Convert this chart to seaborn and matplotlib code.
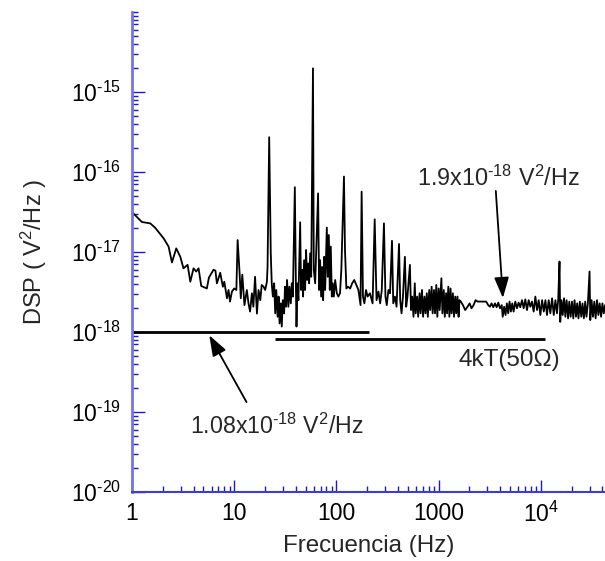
import numpy as np
import pandas as pd
import matplotlib
matplotlib.use("Agg")
import matplotlib.pyplot as plt
import seaborn as sns

UNIT = 1e-18  # DSP values below are in units of 1e-18 V^2/Hz

# ---- spectrum (segments) ----
freq_low = [1.0, 1.25, 1.51, 1.69, 2.04, 2.28, 2.46, 2.71, 2.97, 3.19, 3.5, 3.72, 4.0, 4.25, 4.48,
            4.76, 5.4, 5.66, 6.28, 6.55, 6.77, 7.3, 7.75, 8.0, 8.5, 8.8, 9.1, 9.5, 10.0, 10.5,
            10.8, 11.3, 11.6, 12.0, 12.6, 13.3, 13.8, 14.3, 14.9, 15.4, 16.0, 16.7, 17.3, 18.0, 18.6,
            19.4, 20.1, 20.9]
dsp_low = [31.6, 23.7, 22.8, 20.0, 14.8, 11.7, 7.4, 11.1, 8.7, 6.25, 6.9, 4.25, 6.25, 5.7, 6.25,
           3.76, 3.5, 4.8, 6.0, 5.85, 4.06, 5.5, 3.68, 4.25, 2.64, 3.35, 2.4, 3.2, 3.5, 3.35,
           14.1, 5.4, 2.64, 5.2, 2.17, 3.35, 2.28, 1.8, 3.05, 2.07, 4.9, 1.7, 3.35, 2.5, 3.87,
           3.68, 3.35, 4.25]

freq_mid = [21.2, 22.0, 22.8, 23.3, 23.9, 24.6, 25.2, 25.8, 26.6, 27.2, 27.8, 28.6, 29.2, 29.9, 30.8,
            31.4, 32.2, 32.9, 33.9, 34.7, 35.8, 36.6, 37.5, 39.2, 40.2, 40.7, 41.6, 42.5, 44.2, 45.1,
            46.1, 47.2, 48.3, 49.4, 50.5, 51.7, 52.9, 54.1, 55.4, 56.7, 59.0, 60.1, 62.0, 66.2, 67.8,
            69.3, 70.9, 72.5, 74.2, 75.9, 77.6, 80.6, 82.3, 84.3, 86.2, 88.1, 90.2, 92.2, 94.4, 97.3,
            101, 104.5, 108.5, 111.8, 118.6, 121.4, 125.2, 130.2, 136.5, 142.6, 149.5, 156.7, 164.3,
            172.3, 176.6, 182, 188, 195, 202]
dsp_mid = [6.5, 272, 9.6, 4.06, 2.77, 4.06, 1.71, 3.35, 1.55, 2.77, 1.28, 2.28, 1.17, 2.5, 1.71,
           3.68, 2.07, 4.47, 2.07, 3.68, 2.28, 4.06, 2.77, 64.5, 3.35, 1.17, 4.06, 2.5, 23.5, 3.35,
           6.0, 2.77, 7.9, 3.35, 10.6, 4.47, 7.2, 4.06, 9.6, 4.9, 1976, 6.0, 4.06, 54, 3.35,
           7.9, 2.77, 6.5, 2.5, 8.7, 3.35, 20.2, 4.9, 16.3, 3.35, 11.7, 2.77, 4.06, 2.77, 4.47,
           3.05, 2.77, 3.05, 6.0, 87.6, 10.6, 3.5, 3.68, 3.5, 4.06, 4.47, 3.87, 3.35,
           2.17, 56.7, 2.77, 2.28, 3.35, 2.77]

freq_high = [213, 226, 237, 247, 258, 268, 278, 292, 302, 311, 323, 335, 350, 360, 374,
             388, 410, 421, 434, 448, 468, 482, 496, 524, 537, 552, 568, 585, 597, 617,
             631, 652, 667, 688, 705, 727, 745, 767, 785, 810, 829, 855, 875, 902, 923,
             950, 972, 1002, 1025, 1065, 1090, 1125, 1150, 1185, 1210, 1245, 1275, 1310, 1340, 1380,
             1415, 1455, 1490, 1530, 1570, 1600, 1650, 1730, 1820, 1920, 2010, 2100, 2200, 2300, 2410]
dsp_high = [3.05, 2.28, 25.6, 2.5, 3.2, 2.28, 3.35, 22.8, 2.77, 2.17, 3.35, 3.05, 13.8, 2.28, 2.77,
            2.07, 12.6, 2.5, 1.71, 2.77, 8.7, 2.07, 2.77, 6.9, 1.88, 2.77, 1.55, 4.06, 1.71, 2.77,
            1.55, 3.05, 1.71, 3.35, 1.55, 2.77, 1.71, 3.05, 1.55, 3.35, 1.88, 3.68, 1.71, 3.35, 1.71,
            3.87, 1.55, 3.5, 1.88, 4.7, 1.71, 3.35, 1.55, 3.05, 1.71, 3.68, 1.55, 3.5, 1.71, 3.05,
            1.55, 2.77, 1.71, 2.77, 1.55, 2.5, 2.4, 2.17, 1.88, 2.07, 2.28, 1.98, 2.17, 2.5, 2.4]

freq_top = [2540, 2740, 2920, 3060, 3180, 3300, 3430, 3560, 3700, 3840, 3990, 4150, 4240, 4380, 4520,
            4660, 4800, 4950, 5100, 5260, 5420, 5630, 5850, 6070, 6300, 6550, 6800, 7060, 7330, 7610,
            7900, 8200, 8520, 8850, 9190, 9540, 9900, 10300, 10700, 11100, 11500, 11950, 12400, 12900,
            13400, 13900, 14400, 14800, 15250, 15500, 15950, 16400, 16900, 17400, 17900, 18500, 19000,
            19600, 20200, 20800, 21400, 22100, 22700, 23400, 24100, 24900, 25600, 26400, 27200, 28000,
            28900, 30000, 30500, 31400, 32400, 33400, 34400, 35500, 36600, 37700, 38900, 40100, 41300,
            42600]
dsp_top = [2.4, 2.4, 2.4, 2.17, 2.07, 2.28, 2.04, 2.28, 2.04, 2.33, 1.98, 2.17, 1.55, 2.07, 1.63,
           2.28, 1.71, 2.4, 1.8, 2.28, 1.8, 2.4, 1.98, 2.33, 2.04, 2.5, 1.98, 2.56, 1.88, 2.5,
           2.07, 2.4, 1.8, 2.77, 1.88, 2.5, 1.63, 2.5, 1.8, 2.5, 1.63, 2.5, 1.71, 2.64,
           1.63, 2.5, 1.71, 2.5, 7.6, 1.34, 2.5, 1.63, 2.64, 1.55, 2.5, 1.48, 2.4,
           1.55, 2.4, 1.48, 2.5, 1.55, 2.28, 1.48, 2.4, 1.55, 2.28, 1.48, 2.4, 1.55,
           2.28, 5.7, 1.41, 2.5, 1.55, 2.4, 1.48, 2.5, 1.63, 2.28, 1.55, 2.28, 1.71,
           2.17]

# reference levels (units of 1e-18 V^2/Hz)
ref_levels = [1.0, 0.82]
ref_start = [1.0, 25.0]
ref_end = [209.0, 11000.0]

xtick_vals = [1, 10, 100, 1000, 10000]
xtick_labels = ["1", "10", "100", "1000", "10$^{4}$"]
ytick_vals = [1e-20, 1e-19, 1e-18, 1e-17, 1e-16, 1e-15]
ytick_labels = ["10$^{\\text{-}20}$", "10$^{\\text{-}19}$", "10$^{\\text{-}18}$",
                "10$^{\\text{-}17}$", "10$^{\\text{-}16}$", "10$^{\\text{-}15}$"]

df = pd.DataFrame({
    "freq": freq_low + freq_mid + freq_high + freq_top,
    "dsp": np.array(dsp_low + dsp_mid + dsp_high + dsp_top) * UNIT,
})

sns.set_style("white")
plt.rcParams["font.family"] = ["Liberation Sans", "DejaVu Sans"]
plt.rcParams["mathtext.fontset"] = "custom"
plt.rcParams["mathtext.rm"] = "Liberation Sans"
plt.rcParams["mathtext.it"] = "Liberation Sans:italic"
plt.rcParams["mathtext.bf"] = "Liberation Sans:bold"

fig = plt.figure(figsize=(6.05, 5.61), dpi=100)
ax = fig.add_axes([132 / 605, (561 - 492) / 561, (605 - 132) / 605, (492 - 12) / 561])

sns.lineplot(data=df, x="freq", y="dsp", estimator=None, sort=False,
             color="black", lw=1.3, ax=ax)

for lev, a, b in zip(ref_levels, ref_start, ref_end):
    ax.hlines(lev * UNIT, a, b, colors="black", lw=2.0)

ax.set_xscale("log")
ax.set_yscale("log")
ax.set_xlim(1, 4.25e4)
ax.set_ylim(1e-20, 1e-14)

ax.set_xticks(xtick_vals)
ax.set_xticklabels(xtick_labels)
ax.set_yticks(ytick_vals)
ax.set_yticklabels(ytick_labels)
ax.xaxis.set_minor_locator(matplotlib.ticker.LogLocator(base=10, subs=np.arange(2, 10), numticks=20))
ax.yaxis.set_minor_locator(matplotlib.ticker.LogLocator(base=10, subs=np.arange(2, 11), numticks=20))
ax.xaxis.set_minor_formatter(matplotlib.ticker.NullFormatter())
ax.yaxis.set_minor_formatter(matplotlib.ticker.NullFormatter())

tick_col = "#1a1acc"
ax.tick_params(axis="both", which="both", bottom=True, left=True, top=False, right=False)
ax.tick_params(axis="both", which="major", direction="in", length=9, width=1.0,
               color=tick_col, labelsize=16.5, labelcolor="black")
ax.tick_params(axis="both", which="minor", direction="in", length=4.5, width=1.0, color=tick_col)
ax.tick_params(axis="y", which="both", pad=8)
ax.tick_params(axis="x", which="both", pad=7)

for s in ["top", "right"]:
    ax.spines[s].set_visible(False)
ax.spines["left"].set_color("#7474ea")
ax.spines["left"].set_linewidth(2.0)
ax.spines["bottom"].set_color("#3a3ae6")
ax.spines["bottom"].set_linewidth(1.5)

ax.set_xlabel("Frecuencia (Hz)", fontsize=17.4, labelpad=6)
ax.set_ylabel("DSP ( V$^{2}$/Hz )", fontsize=17, labelpad=16)

# annotations
ax.text(615, 8.4e-17, "1.9x10$^{\\text{-}18}$ V$^{2}$/Hz", fontsize=16.8, ha="left", va="center")
ax.annotate("", xy=(4260, 2.66e-18), xytext=(3630, 5.8e-17),
            arrowprops=dict(arrowstyle="-|>,head_length=0.7,head_width=0.25", color="black",
                            lw=1.3, mutation_scale=18, shrinkA=0, shrinkB=0))
ax.text(3.71, 6.7e-20, "1.08x10$^{\\text{-}18}$ V$^{2}$/Hz", fontsize=16.7, ha="left", va="center")
ax.annotate("", xy=(5.7, 9.1e-19), xytext=(13.2, 1.33e-19),
            arrowprops=dict(arrowstyle="-|>,head_length=0.7,head_width=0.25", color="black",
                            lw=1.3, mutation_scale=18, shrinkA=0, shrinkB=0))
ax.text(1550, 4.47e-19, "4kT(50\u03a9)", fontsize=17.5, ha="left", va="center")

fig.savefig("out.png", dpi=100)
